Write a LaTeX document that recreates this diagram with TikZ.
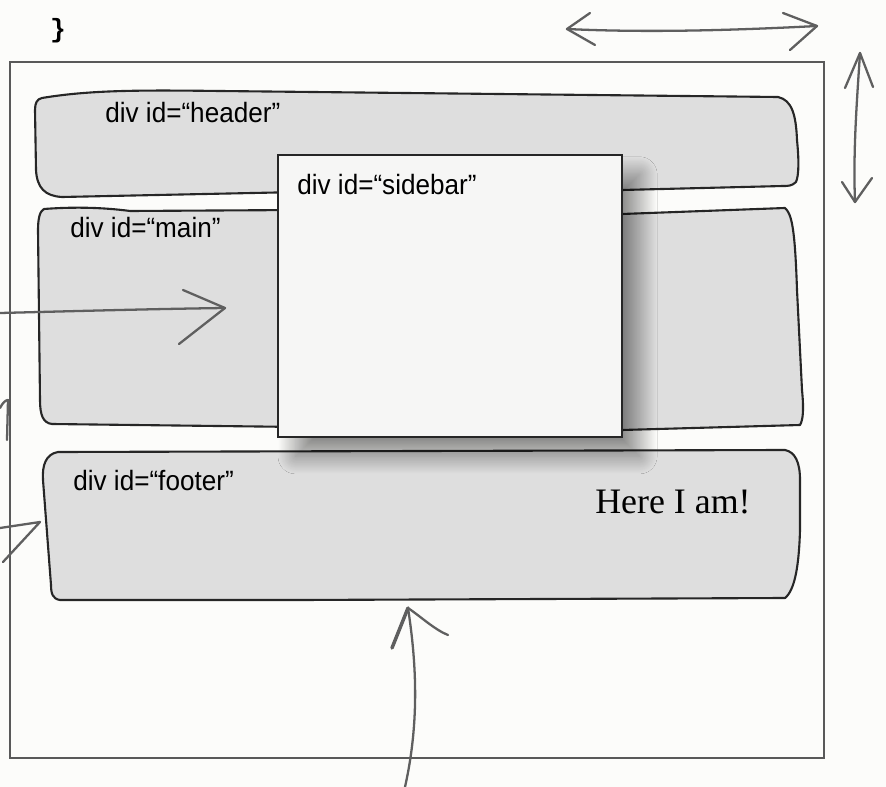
\documentclass[tikz,border=0pt]{standalone}
\usepackage{fontspec}
\setmainfont{Liberation Serif}
\setsansfont{Liberation Sans}
\setmonofont{Liberation Mono}
\usetikzlibrary{shadows.blur}

\definecolor{paper}{RGB}{252,252,250}
\definecolor{blobgray}{RGB}{222,222,222}
\definecolor{boxwhite}{RGB}{246,246,245}
\definecolor{pencil}{RGB}{95,95,95}

\tikzset{
  blob/.style={draw=black!85, line width=1.2pt, fill=blobgray, line join=round},
  pageframe/.style={draw=black!65, line width=1pt},
  sketch/.style={draw=pencil, line width=1.3pt, line cap=round, line join=round},
  divlabel/.style={font=\sffamily\fontsize{15.9}{18}\selectfont, anchor=base west, inner sep=0pt},
  sidebarbox/.style={draw=black!85, line width=1.1pt, fill=boxwhite,
    minimum width=6.88cm, minimum height=5.64cm, inner sep=0pt,
    blur shadow={shadow xshift=10pt, shadow yshift=-11pt,
      shadow blur radius=10pt, shadow blur steps=40, shadow opacity=45}},
  note/.style={font=\rmfamily\fontsize{20.4}{24}\selectfont, anchor=base west, inner sep=0pt},
}
\newcommand{\narrow}[1]{\scalebox{0.935}[1]{#1}}

\begin{document}
\begin{tikzpicture}[x=0.02cm, y=-0.02cm]
  % canvas
  \fill[paper] (0,0) rectangle (886,787);
  \useasboundingbox (0,0) rectangle (886,787);

  % closing brace of the style rule above
  \node[font=\ttfamily\bfseries\fontsize{15}{16}\selectfont, inner sep=0pt] (brace) at (58,31) {\}};

  % the browser page
  \draw[pageframe] (10,62) rectangle (824,758);

  % header
  \path[blob] (42,98) .. controls (90,90) and (140,90) .. (220,91)
    -- (778,97) .. controls (792,100) and (796,115) .. (797,140)
    .. controls (799,160) and (799,175) .. (796,182)
    .. controls (792,186) and (788,186) .. (783,186)
    -- (622,190) -- (300,192) -- (62,197)
    .. controls (45,196) and (37,188) .. (36,170)
    -- (35,110) .. controls (35,103) and (37,99) .. (42,98) -- cycle;
  \node[divlabel] (hdr) at (105,123) {\narrow{div id=“header”}};

  % main
  \path[blob] (44,209) .. controls (70,207) and (100,207) .. (130,211)
    -- (300,210) -- (622,214) -- (785,208)
    .. controls (792,214) and (795,230) .. (797,290)
    -- (802,390) .. controls (804,410) and (803,420) .. (800,425)
    -- (622,430) -- (300,427) -- (52,424)
    .. controls (43,423) and (40,415) .. (40,400)
    -- (38,230) .. controls (38,218) and (40,211) .. (44,209) -- cycle;
  \node[divlabel] (mainlbl) at (70,238) {\narrow{div id=“main”}};

  % footer
  \path[blob] (58,452) -- (785,450)
    .. controls (795,452) and (800,462) .. (800,480)
    -- (800,530) .. controls (799,565) and (795,590) .. (785,598)
    -- (300,600) -- (60,600)
    .. controls (53,599) and (51,594) .. (51,585)
    -- (43,480) .. controls (42,465) and (46,454) .. (58,452) -- cycle;
  \node[divlabel] (ftr) at (73,490) {\narrow{div id=“footer”}};
  \node[note] (here) at (595,513) {Here I am!};

  % sidebar floating above the others
  \node[sidebarbox] (sidebar) at (450,296) {};
  \node[divlabel] (sblbl) at (297,195) {\narrow{div id=“sidebar”}};

  % width arrow
  \coordinate (wl) at (567,29);
  \coordinate (wr) at (817,26);
  \draw[sketch] (wl) .. controls (650,33) and (740,30) .. (wr);
  \draw[sketch] (590,13) -- (wl) -- (595,45);
  \draw[sketch] (783,13) -- (wr) -- (790,50);

  % height arrow
  \coordinate (ht) at (860,53);
  \coordinate (hb) at (855,202);
  \draw[sketch] (ht) .. controls (857,100) and (853,150) .. (hb);
  \draw[sketch] (845,88) -- (ht) -- (873,87);
  \draw[sketch] (842,182) -- (hb) -- (872,178);

  % arrow pointing into main
  \coordinate (ms) at (0,313);
  \coordinate (mt) at (225,308);
  \draw[sketch] (ms) .. controls (80,311) and (150,309) .. (mt);
  \draw[sketch] (183,290) -- (mt) -- (179,344);

  % fragments at the left edge
  \draw[sketch] (0,408) .. controls (3,402) and (6,400) .. (8,400) -- (7,440);
  \coordinate (ft) at (40,522);
  \draw[sketch] (0,528) -- (ft) -- (3,562);

  % arrow pointing up at the footer
  \coordinate (bs) at (405,787);
  \coordinate (bt) at (408,608);
  \draw[sketch] (bs) .. controls (420,720) and (416,660) .. (bt);
  \draw[sketch, line width=2pt] (392,648) -- (bt);
  \draw[sketch] (bt) .. controls (420,616) and (435,630) .. (448,635);
\end{tikzpicture}
\end{document}
